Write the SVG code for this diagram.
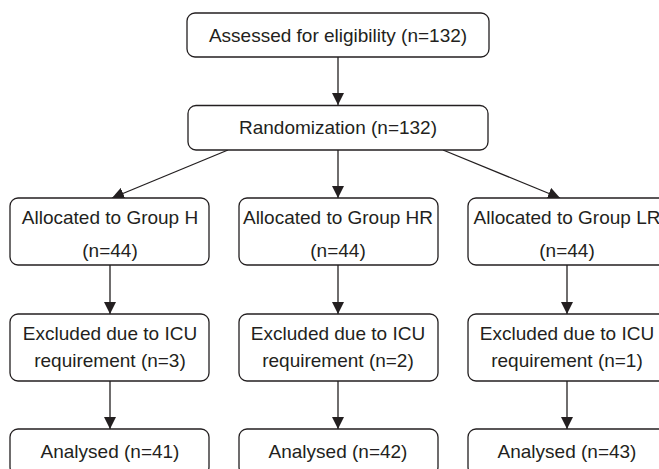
<svg xmlns="http://www.w3.org/2000/svg" width="659" height="469" viewBox="0 0 659 469">
<style>
.box{fill:#fff;stroke:#231f20;stroke-width:1.3}
.t{font-family:"Liberation Sans",Arial,sans-serif;font-size:19px;fill:#231f20;text-anchor:middle}
.c{stroke:#231f20;stroke-width:1.3;fill:none;marker-end:url(#ah)}
</style>
<defs>
<marker id="ah" viewBox="0 0 12 12" refX="12" refY="6" markerWidth="12" markerHeight="12" markerUnits="userSpaceOnUse" orient="auto">
<path d="M0,0 L12,6 L0,12 Z" fill="#231f20"/>
</marker>
</defs>
<rect width="659" height="469" fill="#fff"/>
<g id="connectors">
<line class="c" x1="338" y1="57" x2="338" y2="105"/>
<line class="c" x1="228" y1="150" x2="112" y2="198"/>
<line class="c" x1="338" y1="150" x2="338" y2="198"/>
<line class="c" x1="443" y1="150" x2="560" y2="198"/>
<line class="c" x1="110" y1="265" x2="110" y2="314"/>
<line class="c" x1="338" y1="265" x2="338" y2="314"/>
<line class="c" x1="567" y1="265" x2="567" y2="314"/>
<line class="c" x1="110" y1="381" x2="110" y2="429"/>
<line class="c" x1="338" y1="381" x2="338" y2="429"/>
<line class="c" x1="567" y1="381" x2="567" y2="429"/>
</g>
<g id="assessed">
<rect class="box" x="187" y="13" width="302" height="44" rx="8"/>
<text class="t" x="338" y="41.5">Assessed for eligibility (n=132)</text>
</g>
<g id="randomization">
<rect class="box" x="188" y="105.5" width="300" height="44.5" rx="8"/>
<text class="t" x="338" y="134">Randomization (n=132)</text>
</g>
<g id="alloc-h">
<rect class="box" x="10" y="198" width="199" height="67" rx="8"/>
<text class="t" x="110" y="224">Allocated to Group H</text>
<text class="t" x="110" y="257">(n=44)</text>
</g>
<g id="alloc-hr">
<rect class="box" x="239" y="198" width="199" height="67" rx="8"/>
<text class="t" x="338" y="224">Allocated to Group HR</text>
<text class="t" x="338" y="257">(n=44)</text>
</g>
<g id="alloc-lr">
<rect class="box" x="468" y="198" width="200" height="67" rx="8"/>
<text class="t" x="567" y="224">Allocated to Group LR</text>
<text class="t" x="567" y="257">(n=44)</text>
</g>
<g id="excl-h">
<rect class="box" x="10" y="314" width="199" height="67" rx="8"/>
<text class="t" x="110" y="340">Excluded due to ICU</text>
<text class="t" x="110" y="367">requirement (n=3)</text>
</g>
<g id="excl-hr">
<rect class="box" x="239" y="314" width="199" height="67" rx="8"/>
<text class="t" x="338" y="340">Excluded due to ICU</text>
<text class="t" x="338" y="367">requirement (n=2)</text>
</g>
<g id="excl-lr">
<rect class="box" x="468" y="314" width="200" height="67" rx="8"/>
<text class="t" x="567" y="340">Excluded due to ICU</text>
<text class="t" x="567" y="367">requirement (n=1)</text>
</g>
<g id="anal-h">
<rect class="box" x="10" y="429" width="199" height="46" rx="8"/>
<text class="t" x="110" y="458">Analysed (n=41)</text>
</g>
<g id="anal-hr">
<rect class="box" x="239" y="429" width="199" height="46" rx="8"/>
<text class="t" x="338" y="458">Analysed (n=42)</text>
</g>
<g id="anal-lr">
<rect class="box" x="468" y="429" width="200" height="46" rx="8"/>
<text class="t" x="567" y="458">Analysed (n=43)</text>
</g>
</svg>
